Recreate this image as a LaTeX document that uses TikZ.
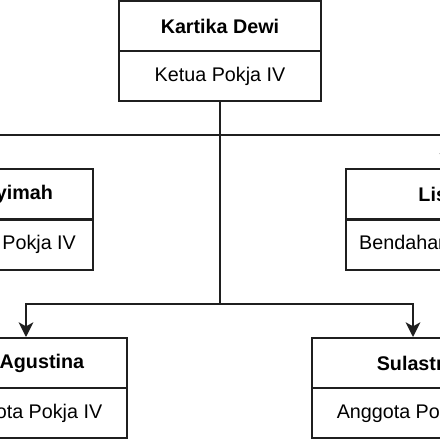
\documentclass[tikz,border=0pt]{standalone}
\usepackage{fontspec}
\setmainfont{Liberation Sans}
\usetikzlibrary{arrows.meta}
\begin{document}
\begin{tikzpicture}[x=0.75pt,y=-0.75pt,
  namebox/.style={draw=black!88,line width=1.5pt,minimum width=151.5pt,minimum height=37.5pt,inner sep=0pt,font=\fontsize{14.8pt}{17pt}\selectfont\bfseries,fill=white},
  rolebox/.style={draw=black!88,line width=1.5pt,minimum width=151.5pt,minimum height=37.5pt,inner sep=0pt,font=\fontsize{14.8pt}{17pt}\selectfont,fill=white},
  conn/.style={draw=black!88,line width=1.5pt,-{Stealth[length=11pt,width=11pt,inset=3pt]}}]
\useasboundingbox (0,0) rectangle (440,440);
\clip (0,0) rectangle (440,440);
% top
\node[namebox] (kdn) at (220,26) {Kartika Dewi};
\node[rolebox] (kdr) at (220,76) {Ketua Pokja IV};
% left
\node[namebox] (nhn) at (-8,194) {Nur Hayimah};
\node[rolebox] (nhr) at (-8,244.5) {Sekretaris Pokja IV};
% right
\node[namebox] (lsn) at (447,194) {Lisma};
\node[rolebox] (lsr) at (447,244.5) {Bendahara Pokja IV};
% bottom left
\node[namebox] (agn) at (26,363) {Sri Agustina};
\node[rolebox] (agr) at (26,413) {Anggota Pokja IV};
% bottom right
\node[namebox] (sln) at (413,363) {Sulastri};
\node[rolebox] (slr) at (413,413) {Anggota Pokja IV};
% connectors
\draw[conn] (kdr.south) -- (220,135) -| (nhn.north);
\draw[conn] (kdr.south) -- (220,135) -| (lsn.north);
\draw[conn] (kdr.south) -- (220,304) -| (agn.north);
\draw[conn] (kdr.south) -- (220,304) -| (sln.north);
\end{tikzpicture}
\end{document}
